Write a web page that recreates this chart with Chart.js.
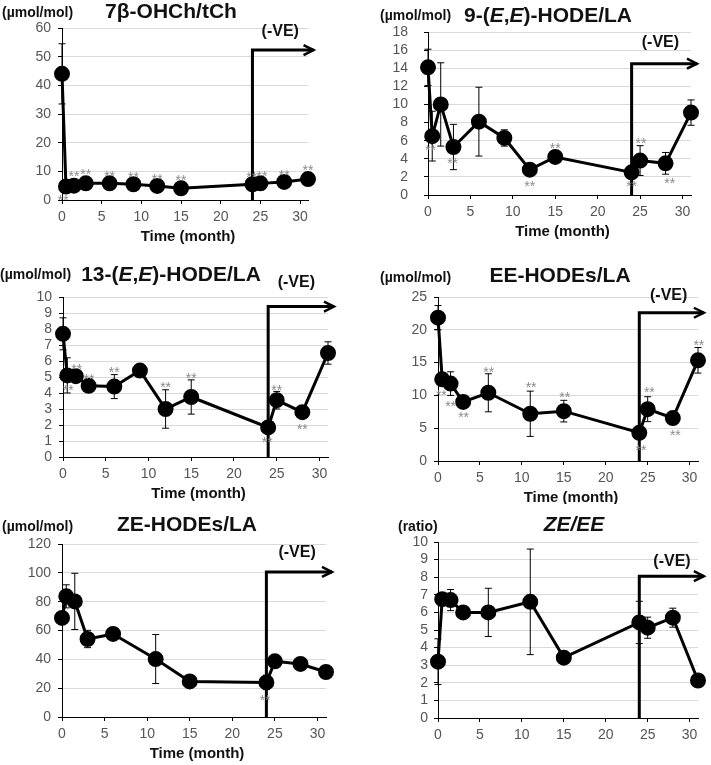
<!DOCTYPE html>
<html>
<head>
<meta charset="utf-8">
<script src="https://cdn.jsdelivr.net/npm/chart.js@4.4.0/dist/chart.umd.min.js"></script>
<style>
body { margin: 0; background: #fff; }
#page { position: relative; width: 711px; height: 765px; overflow: hidden; }
.panel { position: absolute; }
.panel canvas { display: block; }
</style>
</head>
<body>
<div id="page">
  <div class="panel" style="left:0px;top:0px"><canvas id="c1" width="355" height="246"></canvas></div>
  <div class="panel" style="left:355px;top:0px"><canvas id="c2" width="356" height="246"></canvas></div>
  <div class="panel" style="left:0px;top:246px"><canvas id="c3" width="355" height="258"></canvas></div>
  <div class="panel" style="left:355px;top:246px"><canvas id="c4" width="356" height="258"></canvas></div>
  <div class="panel" style="left:0px;top:504px"><canvas id="c5" width="355" height="261"></canvas></div>
  <div class="panel" style="left:355px;top:504px"><canvas id="c6" width="356" height="261"></canvas></div>
</div>
<script>
// sampling times (month)
const monthsA = [0, 0.5, 1.5, 3, 6, 9, 12, 15, 24, 25, 28, 31];
const monthsB = [0, 0.5, 1.5, 3, 6, 11, 15, 24, 25, 28, 31];

// 7b-OHCh/tCh
const oh7Values = [44, 4.7, 5, 5.8, 5.8, 5.5, 4.9, 4.1, 5.5, 5.8, 6.3, 7.3];
const oh7Errors = [10.5, 0, 0, 0, 0, 0, 0, 0, 0, 0, 0, 0];
const oh7Stars = [[0.15, 1.2], [1.5, 9.3], [3, 10.1], [6, 9.5], [9, 9.1], [12, 8.5], [15, 8.1], [23.9, 9.2], [25.2, 9.5], [28, 9.7], [31, 11.5]];

// 9-(E,E)-HODE/LA
const hode9Values = [14.1, 6.5, 10, 5.3, 8.1, 6.3, 2.8, 4.2, 2.5, 3.8, 3.5, 9.1];
const hode9Errors = [2, 2.75, 4.6, 2.5, 3.8, 0.9, 0, 0, 0, 1.65, 1.2, 1.4];
const hode9Stars = [[0.3, 5.3], [2.9, 3.9], [12, 1.35], [15, 5.5], [24, 1.35], [25.1, 6.1], [28.5, 1.65]];

// 13-(E,E)-HODE/LA
const hode13Values = [7.7, 5.1, 5.05, 4.45, 4.4, 5.4, 3.0, 3.75, 1.85, 3.55, 2.8, 6.5];
const hode13Errors = [1.0, 1.1, 0, 0, 0.75, 0, 1.2, 1.07, 0, 0.55, 0, 0.7];
const hode13Stars = [[1.6, 5.7], [0.6, 4.4], [3.05, 5.05], [6, 5.5], [12, 4.55], [15, 5.1], [23.9, 1.1], [25, 4.4], [28, 1.95]];

// EE-HODEs/LA
const eeValues = [21.85, 12.45, 11.8, 9.0, 10.4, 7.2, 7.6, 4.3, 7.9, 6.55, 15.35];
const eeErrors = [1.85, 0, 1.8, 0, 2.9, 3.45, 1.65, 0, 1.9, 0, 1.95];
const eeStars = [[0.4, 10.5], [1.5, 8.85], [3.05, 7.2], [6.05, 14.1], [11.1, 11.7], [15.1, 10.2], [24.2, 2.15], [25.2, 10.9], [28.3, 4.4], [31.1, 18.1]];

// ZE-HODEs/LA
const zeValues = [68.7, 83.7, 80.2, 54.1, 57.6, 40.2, 24.7, 24.0, 38.6, 36.8, 31.2];
const zeErrors = [0, 8, 19.5, 6, 0, 17, 0, 5, 0, 0, 0];
const zeStars = [[23.85, 13.9]];

// ZE/EE ratio
const ratioValues = [3.2, 6.75, 6.7, 6.0, 6.0, 6.6, 3.43, 5.43, 5.13, 5.7, 2.13];
const ratioErrors = [1.3, 0, 0.6, 0, 1.37, 3.0, 0, 1.2, 0.6, 0.54, 0];
const ratioStars = [];

const FONT = '"Liberation Sans", Arial, Helvetica, sans-serif';
const Y_AXIS_W = 50;
const X_AXIS_H = 26;

// page coordinates: box = canvas position, area = plot area
const panels = {
  c1: { box: [0, 0], area: [62, 28, 308, 200], months: monthsA, values: oh7Values, errors: oh7Errors, stars: oh7Stars,
        yMax: 60, yStep: 10, yPad: 7, arrowTop: 52.3, ve: [27.5, 58.6], unit: '(µmol/mol)', unitPos: [2, 13],
        title: [['7β-OHCh/tCh', false]], titlePos: [171, 12], time: true },
  c2: { box: [355, 0], area: [428, 32, 691, 195], months: monthsA, values: hode9Values, errors: hode9Errors, stars: hode9Stars,
        yMax: 18, yStep: 2, yPad: 16, arrowTop: 14.5, ve: [27.4, 16.8], unit: '(µmol/mol)', unitPos: [380, 16],
        title: [['9-(', false], ['E', true], [',', false], ['E', true], [')-HODE/LA', false]], titlePos: [548, 16], time: true },
  c3: { box: [0, 246], area: [63, 297, 328, 457], months: monthsA, values: hode13Values, errors: hode13Errors, stars: hode13Stars,
        yMax: 10, yStep: 1, yPad: 7, arrowTop: 9.4, ve: [27.3, 10.9], unit: '(µmol/mol)', unitPos: [0, 275],
        title: [['13-(', false], ['E', true], [',', false], ['E', true], [')-HODE/LA', false]], titlePos: [171, 275], time: true },
  c4: { box: [355, 246], area: [438, 297, 698, 461], months: monthsB, values: eeValues, errors: eeErrors, stars: eeStars,
        yMax: 25, yStep: 5, yPad: 7, arrowTop: 22.6, ve: [27.5, 25.2], unit: '(µmol/mol)', unitPos: [380, 278],
        title: [['EE-HODEs/LA', false]], titlePos: [560, 276], time: true },
  c5: { box: [0, 504], area: [62, 544, 326, 717], months: monthsB, values: zeValues, errors: zeErrors, stars: zeStars,
        yMax: 120, yStep: 20, yPad: 7, arrowTop: 100.6, ve: [27.6, 114], unit: '(µmol/mol)', unitPos: [2, 527],
        title: [['ZE-HODEs/LA', false]], titlePos: [187, 525], time: true },
  c6: { box: [355, 504], area: [438, 542, 698, 718], months: monthsB, values: ratioValues, errors: ratioErrors, stars: ratioStars,
        yMax: 10, yStep: 1, yPad: 6, arrowTop: 8.06, ve: [27.9, 8.87], unit: '(ratio)', unitPos: [398, 527],
        title: [['ZE/EE', true]], titlePos: [574, 525], time: false }
};

const decorPlugin = {
  id: 'decor',
  beforeDatasetsDraw(chart) {
    const p = panels[chart.canvas.id];
    const ctx = chart.ctx, xs = chart.scales.x, ys = chart.scales.y;
    ctx.save();
    // error bars
    ctx.strokeStyle = '#000';
    ctx.lineWidth = 1;
    p.months.forEach((m, i) => {
      const e = p.errors[i];
      if (!e) return;
      const px = xs.getPixelForValue(m);
      const top = ys.getPixelForValue(p.values[i] + e);
      const bot = ys.getPixelForValue(Math.max(p.values[i] - e, 0));
      ctx.beginPath();
      ctx.moveTo(px, top); ctx.lineTo(px, bot);
      ctx.moveTo(px - 3.5, top); ctx.lineTo(px + 3.5, top);
      ctx.moveTo(px - 3.5, bot); ctx.lineTo(px + 3.5, bot);
      ctx.stroke();
    });
    // (-VE) arrow starting at month 24
    const ax = xs.getPixelForValue(24);
    const ay = ys.getPixelForValue(p.arrowTop);
    const ex = xs.getPixelForValue(31.7);
    ctx.lineWidth = 3;
    ctx.lineJoin = 'miter';
    ctx.beginPath();
    ctx.moveTo(ax, ys.getPixelForValue(0));
    ctx.lineTo(ax, ay);
    ctx.lineTo(ex, ay);
    ctx.stroke();
    ctx.lineWidth = 2.5;
    ctx.beginPath();
    ctx.moveTo(ex - 10, ay - 5);
    ctx.lineTo(ex, ay);
    ctx.lineTo(ex - 10, ay + 5);
    ctx.stroke();
    ctx.restore();
  },
  afterDatasetsDraw(chart) {
    const p = panels[chart.canvas.id];
    const ctx = chart.ctx, xs = chart.scales.x, ys = chart.scales.y;
    ctx.save();
    ctx.fillStyle = '#8a8a8a';
    ctx.font = '14px ' + FONT;
    ctx.textAlign = 'center';
    ctx.textBaseline = 'alphabetic';
    p.stars.forEach(s => {
      ctx.fillText('**', xs.getPixelForValue(s[0]), ys.getPixelForValue(s[1]) + 8);
    });
    ctx.restore();
  },
  afterDraw(chart) {
    const p = panels[chart.canvas.id];
    const ctx = chart.ctx, xs = chart.scales.x, ys = chart.scales.y;
    const bx = p.box[0], by = p.box[1];
    ctx.save();
    ctx.fillStyle = '#111';
    ctx.textBaseline = 'middle';
    // unit label
    ctx.font = 'bold 14px ' + FONT;
    ctx.textAlign = 'left';
    ctx.fillText(p.unit, p.unitPos[0] - bx, p.unitPos[1] - by);
    // title, with italic parts
    let w = 0;
    p.title.forEach(t => {
      ctx.font = (t[1] ? 'italic ' : '') + 'bold 21px ' + FONT;
      w += ctx.measureText(t[0]).width;
    });
    let tx = p.titlePos[0] - bx - w / 2;
    p.title.forEach(t => {
      ctx.font = (t[1] ? 'italic ' : '') + 'bold 21px ' + FONT;
      ctx.fillText(t[0], tx, p.titlePos[1] - by);
      tx += ctx.measureText(t[0]).width;
    });
    // (-VE)
    ctx.font = 'bold 16px ' + FONT;
    ctx.textAlign = 'center';
    ctx.fillText('(-VE)', xs.getPixelForValue(p.ve[0]), ys.getPixelForValue(p.ve[1]));
    // x axis title
    if (p.time) {
      ctx.font = 'bold 15px ' + FONT;
      const ca = chart.chartArea;
      ctx.fillText('Time (month)', (ca.left + ca.right) / 2 + 3, ca.bottom + 37);
    }
    ctx.restore();
  }
};

function makeChart(id) {
  const p = panels[id];
  const canvas = document.getElementById(id);
  const bx = p.box[0], by = p.box[1];
  const pts = p.months.map((m, i) => ({ x: m, y: p.values[i] }));
  new Chart(canvas, {
    type: 'scatter',
    data: {
      datasets: [{
        data: pts,
        showLine: true,
        borderColor: '#000',
        borderWidth: 3,
        backgroundColor: '#000',
        pointBackgroundColor: '#000',
        pointBorderColor: '#000',
        pointRadius: 6.5,
        pointHoverRadius: 6.5,
        tension: 0,
        clip: false
      }]
    },
    options: {
      responsive: false,
      animation: false,
      events: [],
      layout: {
        padding: {
          left: p.area[0] - bx - Y_AXIS_W,
          top: p.area[1] - by,
          right: canvas.width - (p.area[2] - bx),
          bottom: canvas.height - (p.area[3] - by) - X_AXIS_H
        }
      },
      plugins: { legend: { display: false }, tooltip: { enabled: false } },
      scales: {
        x: {
          type: 'linear',
          min: 0,
          max: 31,
          afterFit: s => { s.height = X_AXIS_H; },
          border: { color: '#000', width: 1 },
          grid: { drawOnChartArea: false, drawTicks: true, tickLength: 4, tickColor: '#000' },
          ticks: { stepSize: 5, includeBounds: false, padding: 5, color: '#555', maxRotation: 0, autoSkip: false,
                   font: { family: FONT, size: 14 } }
        },
        y: {
          min: 0,
          max: p.yMax,
          afterFit: s => { s.width = Y_AXIS_W; },
          border: { color: '#000', width: 1 },
          grid: { color: '#d9d9d9', tickColor: '#000', tickLength: 4 },
          ticks: { stepSize: p.yStep, padding: p.yPad, color: '#555', autoSkip: false,
                   font: { family: FONT, size: 14 } }
        }
      }
    },
    plugins: [decorPlugin]
  });
}

['c1', 'c2', 'c3', 'c4', 'c5', 'c6'].forEach(makeChart);
</script>
</body>
</html>
